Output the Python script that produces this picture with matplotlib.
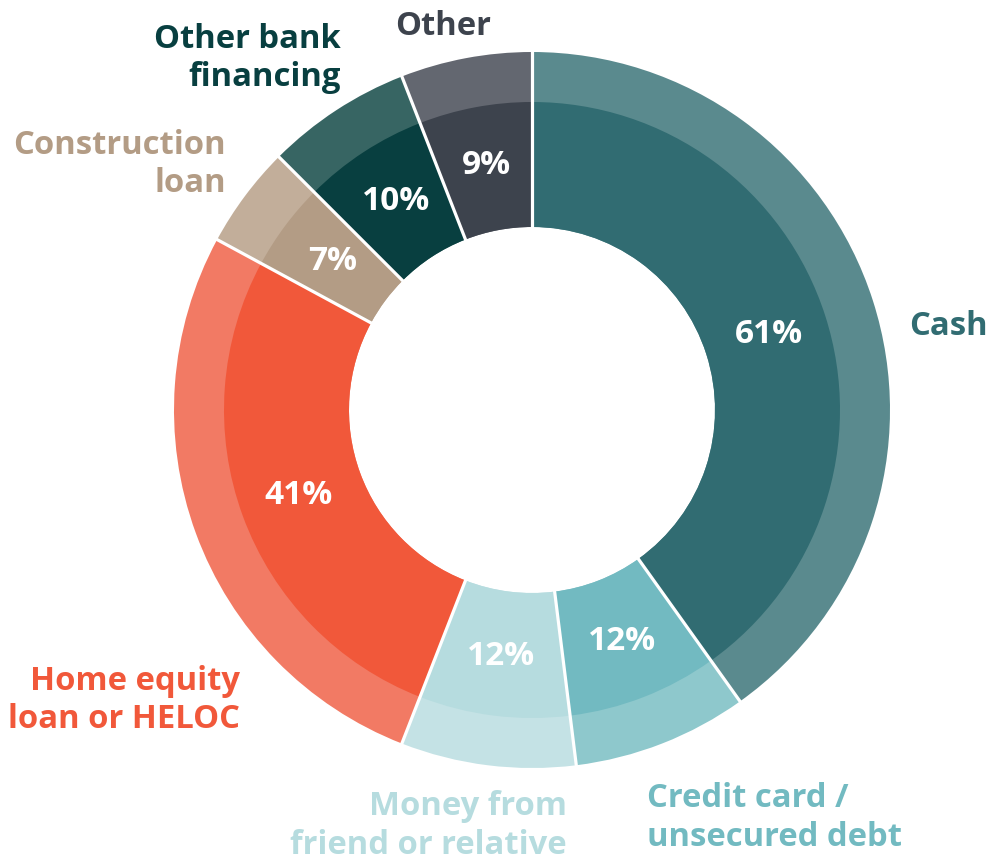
import numpy as np
import matplotlib.pyplot as plt

# ---- data ----
categories = ["Cash", "Credit card /\nunsecured debt", "Money from\nfriend or relative",
              "Home equity\nloan or HELOC", "Construction\nloan", "Other bank\nfinancing", "Other"]
values = [61, 12, 12, 41, 7, 10, 9]
pct_labels = ["61%", "12%", "12%", "41%", "7%", "10%", "9%"]

inner_colors = ["#316C72", "#72BAC1", "#B6DCDF", "#F1583A", "#B39C85", "#083F40", "#3D434D"]
outer_colors = ["#5A8A8E", "#8EC8CC", "#C4E2E5", "#F27A64", "#C2AE9A", "#376563", "#636770"]

# label layout (pixel coords: anchor x, first baseline y, alignment)
label_layout = [(909, 335, "left"), (647, 807, "left"), (567, 815, "right"),
                (240, 690, "right"), (226, 154, "right"), (341, 48, "right"), (443, 35, "center")]

W, H = 988, 860
plt.rcParams['font.family'] = ['Open Sans', 'DejaVu Sans']
fig = plt.figure(figsize=(W / 100, H / 100), dpi=100)
ax = fig.add_axes([0, 0, 1, 1])

cx, cy = 532, H - 410
R_out, R_mid, R_in = 358, 308, 183

ax.pie(values, radius=R_out, colors=outer_colors, startangle=90, counterclock=False,
       center=(cx, cy), wedgeprops=dict(width=R_out - R_in, linewidth=0))
ax.pie(values, radius=R_mid, colors=inner_colors, startangle=90, counterclock=False,
       center=(cx, cy), wedgeprops=dict(width=R_mid - R_in, linewidth=0))

total = float(sum(values))
cum = np.concatenate([[0], np.cumsum(values)])
# white separators
for c in cum[:-1]:
    th = np.deg2rad(90 - c / total * 360)
    ax.plot([cx + (R_in - 2) * np.cos(th), cx + (R_out + 3) * np.cos(th)],
            [cy + (R_in - 2) * np.sin(th), cy + (R_out + 3) * np.sin(th)],
            color="white", lw=2.3, solid_capstyle="butt", zorder=5)

# percentage labels
r_lab = (R_mid + R_in) / 2 + 3
for i, p in enumerate(pct_labels):
    mid = (cum[i] + cum[i + 1]) / 2
    th = np.deg2rad(90 - mid / total * 360)
    ax.text(cx + r_lab * np.cos(th), cy + r_lab * np.sin(th) + 4, p, color="white",
            fontsize=24, fontweight="bold", ha="center", va="center_baseline", zorder=6)

# category labels
step = 38.5
for cat, col, (x, y, ha) in zip(categories, inner_colors, label_layout):
    for j, line in enumerate(cat.split("\n")):
        ax.text(x, H - (y + j * step), line, color=col, fontsize=23.6, fontweight="bold",
                ha=ha, va="baseline")

ax.set_xlim(0, W)
ax.set_ylim(0, H)
ax.set_aspect("equal")
ax.axis("off")
fig.savefig("out.png", dpi=100, facecolor="white")
